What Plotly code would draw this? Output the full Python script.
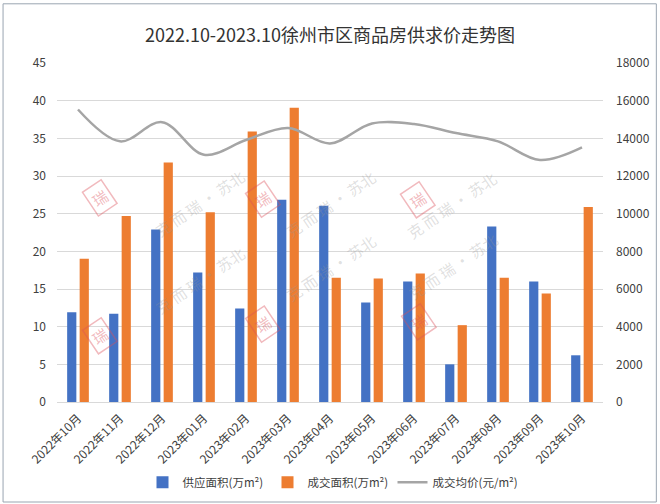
import plotly.graph_objects as go

months = ["2022年10月", "2022年11月", "2022年12月", "2023年01月", "2023年02月", "2023年03月",
          "2023年04月", "2023年05月", "2023年06月", "2023年07月", "2023年08月", "2023年09月", "2023年10月"]
supply = [11.9, 11.7, 22.9, 17.2, 12.4, 26.85, 26.05, 13.2, 16.0, 5.0, 23.3, 16.0, 6.2]
deal = [19.0, 24.7, 31.8, 25.2, 35.9, 39.05, 16.5, 16.4, 17.05, 10.2, 16.5, 14.4, 25.9]
price = [15530, 13840, 14860, 13130, 13910, 14550, 13730, 14790, 14760, 14280, 13840, 12850, 13520]

FONT = "Noto Sans CJK SC"
W, H = 660, 504
L, R, T, B = 56.7, 603.3, 62.7, 401.7
PW, PH = R - L, B - T


def px(x):
    return (x - L) / PW


def py(y):
    return (B - y) / PH


fig = go.Figure()
fig.add_trace(go.Bar(x=months, y=supply, name="供应面积(万m²)", marker_color="#4472C4",
                     marker_line_width=0))
fig.add_trace(go.Bar(x=months, y=deal, name="成交面积(万m²)", marker_color="#ED7D31",
                     marker_line_width=0))
fig.add_trace(go.Scatter(x=months, y=price, name="成交均价(元/m²)", yaxis="y2", mode="lines",
                         line=dict(color="#A5A5A5", width=2.5, shape="spline", smoothing=1)))

annotations = []
wm = [((81, 198), (148, 163)), ((263, 199), (330, 164)), ((81, 355), (148, 320)),
      ((263, 343), (330, 308)), ((436, 200), (503, 165)), ((437, 341), (504, 306))]
for (sx, sy), (tx, ty) in wm:
    annotations.append(dict(x=px(tx), y=py(ty), xref="paper", yref="paper", text="克 而 瑞 · 苏北",
                            showarrow=False, textangle=-34,
                            font=dict(family=FONT, size=15, color="rgba(150,150,150,0.3)")))
    annotations.append(dict(x=px(sx), y=py(sy), xref="paper", yref="paper", text="瑞",
                            showarrow=False, textangle=-34, bordercolor="rgba(220,80,90,0.4)",
                            borderwidth=1.5, borderpad=3,
                            font=dict(family=FONT, size=15, color="rgba(220,80,90,0.4)")))

fig.update_layout(
    width=W, height=H,
    margin=dict(l=L, r=W - R, t=T, b=H - B, autoexpand=False),
    paper_bgcolor="white", plot_bgcolor="white",
    font=dict(family=FONT, size=12, color="#404040"),
    title=dict(text="2022.10-2023.10徐州市区商品房供求价走势图", x=0.5, xanchor="center",
               y=1 - 36 / H, yanchor="middle", yref="container",
               font=dict(family=FONT, size=18, color="#333333")),
    barmode="group", bargap=0.405, bargroupgap=0.264,
    xaxis=dict(tickangle=-45, showgrid=False, showline=False, ticks="", ticklabelstandoff=6,
               tickfont=dict(family=FONT, size=12, color="#404040")),
    yaxis=dict(range=[0, 45], dtick=5, gridcolor="#D9D9D9", gridwidth=1, zeroline=True,
               zerolinecolor="#D9D9D9", zerolinewidth=1, showline=False, ticks="",
               ticklabelstandoff=10, tickfont=dict(family=FONT, size=12, color="#404040")),
    yaxis2=dict(range=[0, 18000], dtick=2000, tickformat="d", overlaying="y", side="right",
                showgrid=False, zeroline=False, showline=False, ticks="", ticklabelstandoff=12,
                tickfont=dict(family=FONT, size=12, color="#404040")),
    legend=dict(orientation="h", x=0.5, xanchor="center", y=py(482), yanchor="middle",
                entrywidth=80, entrywidthmode="pixels", itemwidth=30,
                font=dict(family=FONT, size=11.5, color="#404040"), traceorder="normal"),
    annotations=annotations,
    shapes=[dict(type="rect", xref="paper", yref="paper", x0=px(2.7), x1=px(656.7),
                 y0=py(501.7), y1=py(3.5), line=dict(color="#9AA5B1", width=1),
                 fillcolor="rgba(0,0,0,0)", layer="below")],
)

fig.write_html("out.html", config={"displayModeBar": False},
               post_script="document.body.style.margin='0';document.body.style.overflow='hidden';")
